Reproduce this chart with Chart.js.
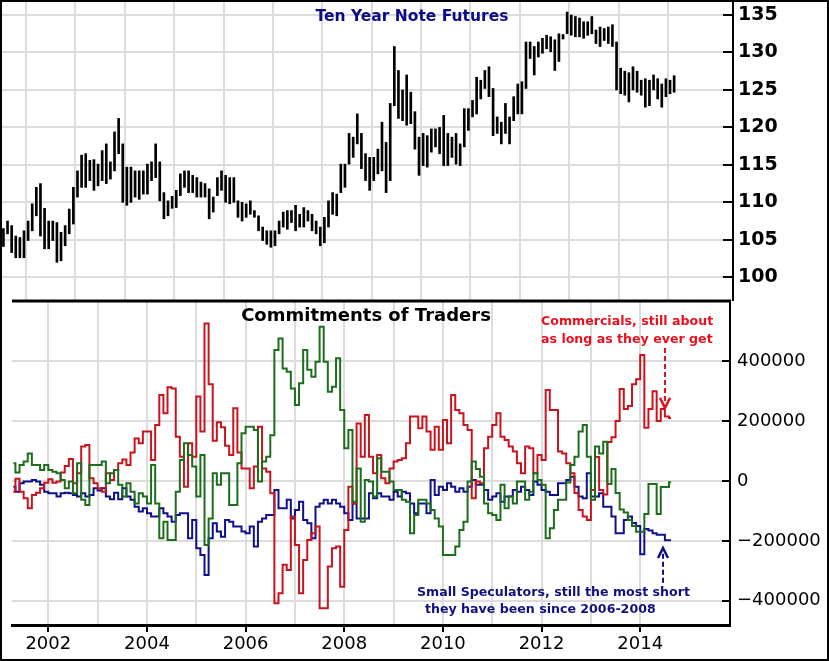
<!DOCTYPE html>
<html>
<head>
<meta charset="utf-8">
<script src="https://cdn.jsdelivr.net/npm/chart.js@4.4.0/dist/chart.umd.min.js"></script>
<style>
  html, body { margin: 0; padding: 0; background: #fff; }
  #wrap { position: relative; width: 829px; height: 661px; overflow: hidden; background: #fff; }
  #priceCanvas { position: absolute; left: 0; top: 0; }
  #cotCanvas { position: absolute; left: 0; top: 299px; }
  .note { position: absolute; font-family: "DejaVu Sans", Verdana, sans-serif; font-weight: bold;
          white-space: nowrap; line-height: 1; transform: translateY(-50%); }
  #frame { position: absolute; left: 0; top: 0; right: 0; bottom: 0; border: 2px solid #000; pointer-events: none; }
</style>
</head>
<body>
<div id="wrap">
  <canvas id="priceCanvas" width="829" height="301"></canvas>
  <canvas id="cotCanvas" width="829" height="362"></canvas>
  <div class="note" style="left:412px;top:17px;transform:translate(-50%,-50%);font-size:15.5px;color:#0c0c86">Ten Year Note Futures</div>
  <div class="note" style="left:366px;top:315px;transform:translate(-50%,-50%);font-size:18px;color:#000">Commitments of Traders</div>
  <div class="note" style="left:541px;top:321px;font-size:12.6px;color:#e8101e">Commercials, still about</div>
  <div class="note" style="left:541px;top:339px;font-size:12.6px;color:#e8101e">as long as they ever get</div>
  <div class="note" style="left:417px;top:592px;font-size:12.6px;color:#101080">Small Speculators, still the most short</div>
  <div class="note" style="left:425px;top:609px;font-size:12.6px;color:#101080">they have been since 2006-2008</div>
  <div id="frame"></div>
</div>
<script>
// monthly bars, Jan 2001 .. Aug 2014
const noteStart = 2001;
const noteHigh = [
  106.5, 107.5, 106.9, 105.5, 105.3, 106.2, 107.5, 109.8, 112.0, 112.5, 109.2, 107.5,
  107.5, 107.3, 106.0, 106.9, 109.1, 112.0, 114.2, 116.3, 116.5, 115.6, 115.7, 115.1,
  116.9, 117.8, 115.4, 119.4, 121.2, 117.8, 114.7, 114.7, 114.2, 114.2, 114.2, 115.1,
  115.4, 117.8, 115.4, 111.3, 110.2, 110.8, 111.6, 113.8, 114.2, 114.2, 113.6, 113.3,
  112.7, 112.5, 111.8, 110.7, 113.3, 114.2, 113.6, 113.3, 113.3, 110.2, 110.0, 109.8,
  110.2, 108.9, 108.2, 106.7, 106.2, 106.2, 106.2, 107.5, 108.7, 108.9, 108.9, 109.6,
  108.4, 109.3, 108.9, 108.4, 107.5, 106.7, 108.0, 110.2, 111.3, 111.1, 115.1, 115.1,
  119.2, 118.7, 121.8, 119.2, 116.5, 116.0, 116.0, 117.1, 120.7, 118.0, 123.2, 130.8,
  127.6, 125.0, 127.0, 124.7, 122.1, 118.7, 119.2, 118.9, 119.8, 119.8, 120.0, 121.6,
  119.2, 118.7, 119.2, 117.8, 122.5, 122.5, 123.6, 126.7, 126.3, 127.6, 128.1, 125.2,
  121.4, 120.7, 123.2, 121.4, 124.1, 125.8, 126.1, 131.4, 131.4, 130.8, 131.4, 131.9,
  132.3, 132.1, 131.7, 132.5, 132.4, 135.4, 135.0, 134.8, 134.6, 134.1, 134.1, 134.8,
  133.0, 133.4, 133.2, 133.4, 133.7, 131.4, 127.9, 127.5, 127.3, 128.1, 127.5, 126.3,
  126.5, 126.3, 127.0, 126.5, 125.8, 126.5, 126.3, 126.9
];
const noteLow = [
  104.1, 105.8, 103.3, 102.6, 102.6, 102.6, 104.9, 106.2, 108.2, 105.5, 103.8, 103.8,
  104.9, 102.0, 102.2, 104.2, 105.8, 107.1, 110.7, 112.0, 112.0, 112.9, 111.6, 112.2,
  112.9, 112.5, 113.1, 114.2, 116.5, 110.0, 109.6, 110.0, 110.7, 110.4, 111.1, 111.1,
  112.9, 113.3, 110.2, 107.8, 108.2, 109.2, 109.3, 110.9, 112.0, 111.3, 111.3, 110.7,
  110.7, 110.7, 107.8, 108.7, 110.9, 111.6, 110.0, 109.8, 110.0, 108.0, 107.5, 108.0,
  108.4, 108.0, 106.2, 104.9, 104.4, 104.0, 104.2, 105.8, 106.7, 106.4, 107.3, 106.2,
  106.7, 106.7, 107.5, 106.2, 105.8, 104.2, 104.6, 106.7, 108.4, 108.2, 111.3, 112.0,
  115.1, 116.0, 117.8, 114.5, 112.9, 111.6, 112.9, 113.8, 114.2, 111.3, 112.9, 122.9,
  121.2, 120.9, 120.3, 120.5, 117.1, 113.6, 114.9, 114.7, 116.7, 117.4, 116.5, 114.9,
  114.9, 116.0, 115.1, 114.9, 117.4, 119.6, 121.4, 121.8, 123.8, 125.2, 124.1, 118.9,
  119.2, 117.8, 119.2, 117.8, 120.9, 121.8, 121.8, 125.2, 129.2, 127.0, 129.4, 129.9,
  130.5, 130.1, 127.6, 128.8, 131.8, 132.5, 132.3, 132.1, 132.1, 131.9, 132.3, 132.5,
  131.2, 130.8, 131.6, 131.2, 130.8, 125.0, 124.5, 124.3, 123.4, 125.0, 124.7, 124.3,
  122.7, 122.9, 125.0, 123.8, 122.7, 124.1, 124.5, 124.7
];

// net positions (thousands of contracts), monthly steps from Apr 2001
const cotStart = 2001.25;
const commercials = [
  -36, 7, -36, -58, -91, -47, -39, -24, -6, 6, -6, -2, 28, 50, 73, -8, 26, 115, 120, 9,
  -8, -24, -36, 26, 3, 37, 59, 72, 53, 95, 142, 126, 165, 165, 70, 187, 287, 226, 313, 309,
  148, 81, -19, 126, 81, 282, 165, 526, 323, 134, 196, 179, 118,
  87, 243, 95, 42, 42, -24, 48, 181, 42, 31, -41, -408, -375, -280, -297, -119, -214, -375,
  -264, -197, -175, -152, -425, -425, -286, -225, -219, -353, -164, -19, -75, 192, 81, 220,
  81, 26, 87, 9, -8, 42, 65, 70, 76, 126, 215, 215, 176, 215, 165, 104, 181, 104, 204, 126, 287,
  237, 226, 187, 170, -58, -2, -8, 109, 148, 187, 226, 148, 137, 115, 98, 59, 26, 115, 109,
  26, 87, 70, 304, 237, 237, 98, 92, 59, 26, -40, -97, -119, -130, -30, 80, -30, -45, 130,
  146, 200, 307, 240, 250, 323, 340, 421, 178, 240, 300, 200, 240, 215, 210
];
const largeSpecs = [
  59, 28, 53, 65, 92, 53, 53, 37, 53, 37, 31, 26, 3, -24, -2, -41, 59, -63, -80, 53,
  53, 53, 65, -8, 26, 37, -13, -52, -8, -36, -75, -41, -52, -75, 53, -75, -191, -136, -197, -197,
  -36, 70, 126, 87, 48, -52, 87, -214, -125, 26, -13, 26, 26,
  -80, -80, 59, 159, 181, 181, 170, -2, 65, 81, 153, 437, 476, 376, 365, 309, 254, 326,
  437, 371, 348, 398, 515, 398, 298, 315, 410, 237, 109, 170, -69, 42, -136, 3, -2, -52,
  76, 31, 31, -2, -30, -30, -63, -69, -175, -114, -63, -63, -75, -97, -125, -152, -247, -247, -247,
  -219, -164, -136, -2, 65, 40, 14, -75, -108, -114, -130, -13, -91, -52, -75, -2, -2, -63, -36,
  26, 3, -13, -191, -158, -97, -63, -63, -5, 53, 81, 165, 187, 81, -63, 115, 92, 131, -10,
  40, -40, -95, -105, -130, -150, -170, -170, -110, -10, -10, -110, -20, -20, -4
];
const smallSpecs = [
  -19, -36, -8, -2, -2, 3, -2, -13, -36, -41, -41, -52, -41, -39, -41, -47, -52, -41, -52, -47,
  -24, -32, -24, -52, -61, -39, -61, -24, -52, -63, -86, -102, -91, -108, -119, -119, -91, -108, -119, -136,
  -114, -108, -108, -191, -130, -225, -247, -314, -191, -141, -169, -186, -130,
  -136, -152, -152, -169, -175, -152, -219, -136, -125, -114, -114, -30, -91, -91, -63, -125,
  -97, -69, -130, -141, -191, -86, -75, -63, -75, -63, -75, -86, -108, -130, -75, -125, -125, -125,
  -41, -58, -41, -52, -52, -63, -36, -52, -36, -41, -75, -108, -75, -75, -108, 3, -47, -19, -30, -8, -19,
  -36, -24, -36, -19, 3, -13, -13, -30, -63, -52, -41, -69, -52, -52, -30, -36, -19, -30, -47,
  -2, -13, -30, -36, -47, -47, -8, -8, 3, 14, -19, -52, -58, 26, -52, -52, -41, -86, -86,
  -119, -175, -175, -130, -119, -140, -150, -245, -160, -165, -175, -180, -180, -198, -198
];

const yearTicks = [2002, 2003, 2004, 2005, 2006, 2007, 2008, 2009, 2010, 2011, 2012, 2013, 2014];
const priceTicks = [100, 105, 110, 115, 120, 125, 130, 135];
const cotTicks = [-400000, -200000, 0, 200000, 400000];

// dashed pointers in the COT panel
const arrowNotes = [
  { at: 2014.5, from: 444000, to: 244000, color: '#e8101e' },
  { at: 2014.46, from: -340000, to: -224000, color: '#101080' }
];

const gridGrey = '#dcdcdc';

// no automatic label padding: the plot area is fixed by layout.padding + axis sizes
const noPad = s => { s.paddingLeft = 0; s.paddingRight = 0; s.paddingTop = 0; s.paddingBottom = 0; };

const innerTicks = {
  id: 'innerTicks',
  afterDatasetsDraw(chart, args, opts) {
    const { ctx, chartArea: a, scales: { y } } = chart;
    ctx.save();
    ctx.strokeStyle = '#000';
    ctx.lineWidth = 2;
    y.ticks.forEach(t => {
      const py = Math.round(y.getPixelForValue(t.value));
      ctx.beginPath();
      ctx.moveTo(a.right - opts.len, py);
      ctx.lineTo(a.right, py);
      ctx.stroke();
    });
    if (opts.topLine) {
      ctx.lineWidth = 3;
      ctx.beginPath();
      ctx.moveTo(a.left, a.top);
      ctx.lineTo(a.right + 1, a.top);
      ctx.stroke();
    }
    ctx.restore();
  }
};

const arrows = {
  id: 'arrows',
  afterDatasetsDraw(chart) {
    const { ctx, scales: { x, y } } = chart;
    arrowNotes.forEach(n => {
      const px = Math.round(x.getPixelForValue(n.at));
      const y0 = y.getPixelForValue(n.from);
      const y1 = y.getPixelForValue(n.to);
      const d = Math.sign(y1 - y0);
      ctx.save();
      ctx.strokeStyle = n.color;
      ctx.lineWidth = 2;
      ctx.setLineDash([5, 3]);
      ctx.beginPath();
      ctx.moveTo(px, y0);
      ctx.lineTo(px, y1 - d * 4);
      ctx.stroke();
      ctx.setLineDash([]);
      ctx.lineWidth = 2.5;
      ctx.beginPath();
      ctx.moveTo(px - 5, y1 - d * 10);
      ctx.lineTo(px, y1);
      ctx.lineTo(px + 5, y1 - d * 10);
      ctx.stroke();
      ctx.restore();
    });
  }
};

// top panel: high-low bars
new Chart(document.getElementById('priceCanvas'), {
  type: 'bar',
  data: {
    datasets: [{
      data: noteHigh.map((h, i) => ({ x: noteStart + (i + 0.5) / 12, y: [noteLow[i], h] })),
      backgroundColor: '#000',
      borderWidth: 0,
      barThickness: 2
    }]
  },
  options: {
    responsive: false,
    animation: false,
    layout: { autoPadding: false, padding: { left: 2, top: 2, right: 0, bottom: 0 } },
    plugins: { legend: { display: false }, tooltip: { enabled: false }, innerTicks: { len: 10 } },
    scales: {
      x: {
        type: 'linear', offset: false, min: 2001.013, max: 2015.817,
        afterBuildTicks: s => { s.ticks = yearTicks.map(v => ({ value: v })); },
        afterFit: s => { s.height = 0; noPad(s); },
        ticks: { display: false },
        border: { display: false },
        grid: { color: gridGrey, lineWidth: 2, drawTicks: false }
      },
      y: {
        position: 'right', min: 96.83, max: 136.74,
        afterBuildTicks: s => { s.ticks = priceTicks.map(v => ({ value: v })); },
        afterFit: s => { s.width = 96; noPad(s); },
        ticks: { padding: 5, color: '#000', font: { family: 'DejaVu Sans', weight: 'bold', size: 19 } },
        border: { display: true, color: '#000', width: 2 },
        grid: { color: gridGrey, lineWidth: 2, drawTicks: false }
      }
    }
  },
  plugins: [innerTicks]
});

// bottom panel: commitments of traders
const stepSeries = (vals, color) => ({
  data: vals.map((v, m) => ({ x: cotStart + (m + 0.5) / 12, y: v * 1000 })),
  stepped: 'middle',
  borderColor: color,
  borderWidth: 2,
  pointRadius: 0,
  fill: false
});

new Chart(document.getElementById('cotCanvas'), {
  type: 'line',
  data: {
    datasets: [
      stepSeries(largeSpecs, '#1c6e1c'),
      stepSeries(commercials, '#c8141e'),
      stepSeries(smallSpecs, '#10108c')
    ]
  },
  options: {
    responsive: false,
    animation: false,
    layout: { autoPadding: false, padding: { left: 12, top: 2, right: 0, bottom: 0 } },
    plugins: { legend: { display: false }, tooltip: { enabled: false }, innerTicks: { len: 8, topLine: true } },
    scales: {
      x: {
        type: 'linear', min: 2001.264, max: 2015.82,
        afterBuildTicks: s => { s.ticks = yearTicks.map(v => ({ value: v })); },
        afterFit: s => { s.height = 36; noPad(s); },
        ticks: {
          autoSkip: false, maxRotation: 0, padding: 2, color: '#000',
          font: { family: 'DejaVu Sans', size: 18 },
          callback: v => (v % 2 === 0 ? String(v) : '')
        },
        border: { display: true, color: '#000', width: 3 },
        grid: {
          color: gridGrey, lineWidth: 2, tickLength: 7, tickWidth: 2,
          tickColor: c => (c.tick && c.tick.value % 2 === 0 ? '#000' : 'rgba(0,0,0,0)')
        }
      },
      y: {
        position: 'right', min: -481000, max: 601000,
        afterBuildTicks: s => { s.ticks = cotTicks.map(v => ({ value: v })); },
        afterFit: s => { s.width = 99; noPad(s); },
        ticks: {
          padding: 7, color: '#000', font: { family: 'DejaVu Sans', size: 18 },
          callback: v => (v < 0 ? '\u2212' + Math.abs(v) : String(v))
        },
        border: { display: true, color: '#000', width: 2 },
        grid: { color: gridGrey, lineWidth: 2, drawTicks: false }
      }
    }
  },
  plugins: [innerTicks, arrows]
});
</script>
</body>
</html>
